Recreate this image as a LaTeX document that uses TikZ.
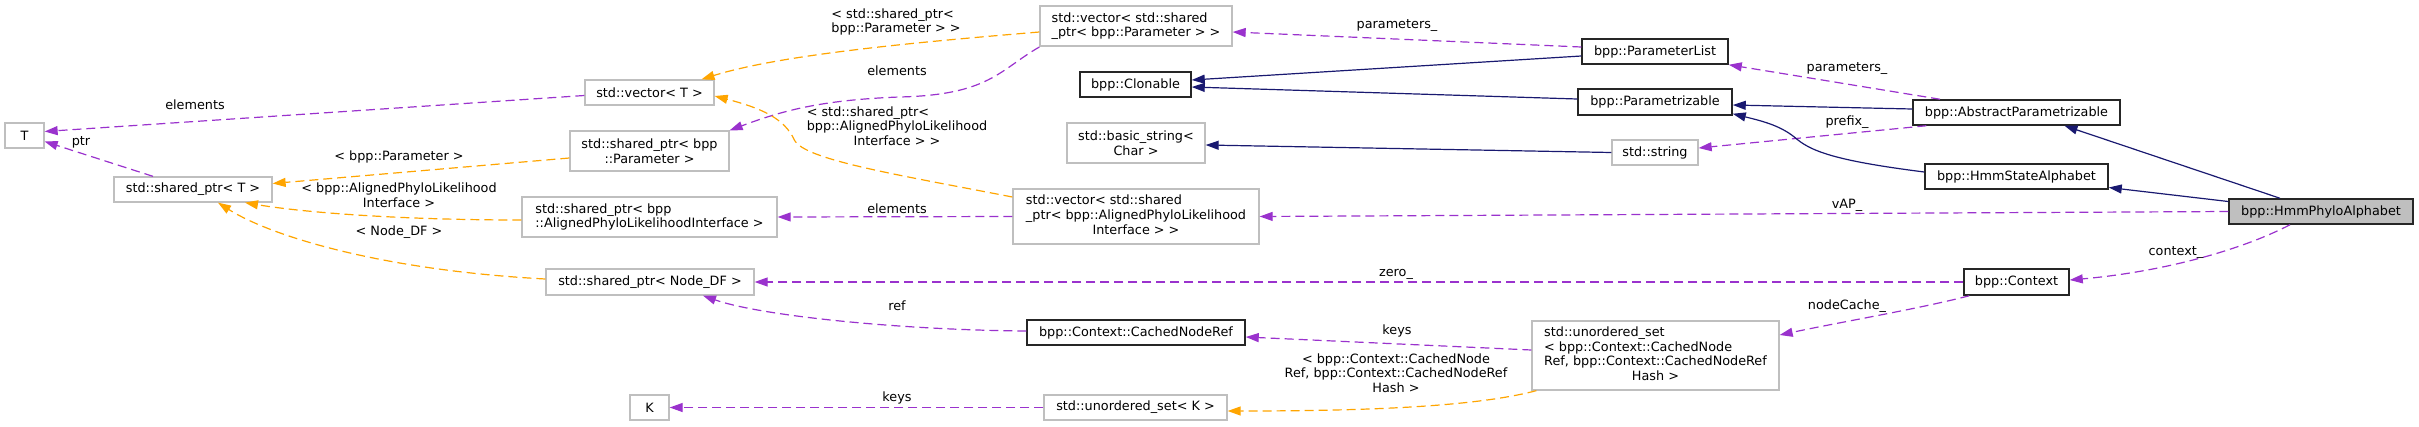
\documentclass[tikz,border=0pt]{standalone}
\usepackage{fontspec}
\setmainfont{DejaVu Sans}
\usetikzlibrary{arrows.meta}
\definecolor{usecol}{HTML}{9A32CD}
\definecolor{tplcol}{HTML}{FFA500}
\definecolor{inhcol}{HTML}{191970}
\definecolor{boxgray}{HTML}{BFBFBF}
% left lines, last line centred
\newcommand{\mixlines}[2]{\begin{tabular}{@{}l@{}}#1\\\multicolumn{1}{@{}c@{}}{#2}\end{tabular}}
\begin{document}
\begin{tikzpicture}[x=1pt,y=1pt]
\tikzstyle{every node}+=[inner sep=0pt, font=\fontsize{12.8}{14.7}\selectfont]
\tikzstyle{undoc}=[draw=boxgray, line width=1.3pt, fill=white]
\tikzstyle{doc}=[draw=black!85, line width=1.5pt, fill=white]
\tikzstyle{usage}=[usecol, line width=1.2pt, dash pattern=on 9pt off 5pt, -{Triangle[length=13pt,width=9pt]}]
\tikzstyle{tmpl}=[tplcol, line width=1.2pt, dash pattern=on 9pt off 5pt, -{Triangle[length=13pt,width=9pt]}]
\tikzstyle{inherit}=[inhcol, line width=1.2pt, -{Triangle[length=13pt,width=9pt]}]
\tikzstyle{lbl}=[align=center]
\useasboundingbox (0,0) rectangle (2419,-426);
% classes
\node [undoc, minimum width=39pt, minimum height=25pt] (T) at (24.5,-135.5) {T};
\node [undoc, minimum width=158pt, minimum height=25pt] (sptrT) at (193,-189.5) {std::shared\_ptr< T >};
\node [undoc, minimum width=129pt, minimum height=25pt] (vecT) at (649.5,-92.5) {std::vector< T >};
\node [undoc, minimum width=159pt, minimum height=40pt, align=center] (sptrPar) at (649.5,-151) {std::shared\_ptr< bpp\\::Parameter >};
\node [undoc, minimum width=255pt, minimum height=40pt, align=left] (sptrAPL) at (649.5,-217) {std::shared\_ptr< bpp\\::AlignedPhyloLikelihoodInterface >};
\node [undoc, minimum width=208pt, minimum height=26pt] (sptrNode) at (650,-282) {std::shared\_ptr< Node\_DF >};
\node [undoc, minimum width=39pt, minimum height=25pt] (K) at (649.5,-407.5) {K};
\node [undoc, minimum width=192pt, minimum height=40pt, align=left] (vecPar) at (1136,-26) {std::vector< std::shared\\\_ptr< bpp::Parameter > >};
\node [doc, minimum width=111pt, minimum height=25pt] (Clonable) at (1135.5,-84.5) {bpp::Clonable};
\node [undoc, minimum width=138pt, minimum height=40pt, align=center] (basicStr) at (1136,-143) {std::basic\_string<\\Char >};
\node [undoc, minimum width=246pt, minimum height=55pt] (vecAPL) at (1136,-216.5) {\mixlines{std::vector< std::shared\\\_ptr< bpp::AlignedPhyloLikelihood}{Interface > >}};
\node [doc, minimum width=218pt, minimum height=25pt] (CachedRef) at (1136,-332.5) {bpp::Context::CachedNodeRef};
\node [undoc, minimum width=183pt, minimum height=25pt] (usetK) at (1135.5,-407.5) {std::unordered\_set< K >};
\node [undoc, minimum width=247pt, minimum height=69pt] (usetRef) at (1655.5,-355.5) {\mixlines{std::unordered\_set\\< bpp::Context::CachedNode\\Ref, bpp::Context::CachedNodeRef}{Hash >}};
\node [doc, minimum width=146pt, minimum height=25pt] (ParList) at (1655,-51.5) {bpp::ParameterList};
\node [doc, minimum width=154pt, minimum height=26pt] (Parmz) at (1655,-102) {bpp::Parametrizable};
\node [undoc, minimum width=86pt, minimum height=25pt] (str) at (1655,-152.5) {std::string};
\node [doc, minimum width=105pt, minimum height=26pt] (Context) at (2016.5,-282) {bpp::Context};
\node [doc, minimum width=207pt, minimum height=25pt] (AbsParmz) at (2016.5,-112.5) {bpp::AbstractParametrizable};
\node [doc, minimum width=183pt, minimum height=25pt] (HmmState) at (2016.5,-176.5) {bpp::HmmStateAlphabet};
\node [doc, fill=boxgray, minimum width=184pt, minimum height=25pt] (HmmPhylo) at (2321,-211.5) {bpp::HmmPhyloAlphabet};
% edges
\draw [usage] ([yshift=-3pt]vecT.west) -- ([yshift=4pt]T.east);
\node [lbl] (lElemT) at (195,-105) {elements};
\draw [usage] ([xshift=-40pt]sptrT.north) -- ([yshift=-6pt]T.east);
\node [lbl] (lPtr) at (81,-142) {ptr};
\draw [tmpl] ([yshift=-7pt]sptrPar.west) -- ([yshift=6pt]sptrT.east);
\node [lbl] (lPar) at (399,-157) {< bpp::Parameter >};
\draw [tmpl] ([yshift=-3pt]sptrAPL.west) .. controls +(-120,0) and +(60,-10) .. ([xshift=52pt]sptrT.south);
\node [lbl] (lAPL) at (399,-195) {< bpp::AlignedPhyloLikelihood\\Interface >};
\draw [tmpl] ([yshift=3pt]sptrNode.west) .. controls +(-166,9) and +(52,-33) .. ([xshift=25pt]sptrT.south);
\node [lbl] (lNode) at (399,-232) {< Node\_DF >};
\draw [tmpl] ([yshift=-6pt]vecPar.west) .. controls +(-120,-10) and +(80,25) .. ([xshift=52pt]vecT.north);
\node [lbl, align=left] (lSptrPar) at (896,-22) {< std::shared\_ptr<\\bpp::Parameter > >};
\draw [usage] ([yshift=-21pt]vecPar.west) .. controls +(-40,-23) and +(90,2) .. ++(-140,-50) .. controls +(-80,-3) and +(51,19) .. (sptrPar.north east);
\node [lbl] (lElemPar) at (897,-71) {elements};
\draw [tmpl] ([yshift=19.5pt]vecAPL.west) .. controls +(-113,22) and +(10,-20) .. ++(-218,57) .. controls +(-10,22) and +(46,-12) .. ([yshift=-3.5pt]vecT.east);
\node [lbl] (lSptrAPL) at (897,-128) {\mixlines{< std::shared\_ptr<\\bpp::AlignedPhyloLikelihood}{Interface > >}};
\draw [usage] (vecAPL.west) -- (sptrAPL.east);
\node [lbl] (lElemAPL) at (897,-209) {elements};
\draw [usage] ([yshift=1.5pt]CachedRef.west) .. controls +(-127,1) and +(57,-20) .. ([xshift=53pt]sptrNode.south);
\node [lbl] (lRef) at (897,-306) {ref};
\draw [usage] (usetK.west) -- (K.east);
\node [lbl] (lKeysK) at (897,-398) {keys};
\draw [usage] ([yshift=4.5pt]ParList.west) -- ([yshift=-6pt]vecPar.east);
\node [lbl] (lParams) at (1397,-26) {parameters\_};
\draw [inherit] ([yshift=-4.5pt]ParList.west) -- ([yshift=4.5pt]Clonable.east);
\draw [inherit] ([yshift=3pt]Parmz.west) -- ([yshift=-2.5pt]Clonable.east);
\draw [inherit] (str.west) -- ([yshift=-2pt]basicStr.east);
\draw [usage] (Context.west) -- (sptrNode.east);
\node [lbl] (lZero) at (1396,-274) {zero\_};
\draw [usage] ([yshift=5.5pt]usetRef.west) -- ([yshift=-4.5pt]CachedRef.east);
\node [lbl] (lKeysRef) at (1397,-331) {keys};
\draw [tmpl] ([xshift=5pt]usetRef.south west) .. controls +(-57,-15) and +(153,0) .. ([yshift=-3.5pt]usetK.east);
\node [lbl] (lUset) at (1396,-373) {< bpp::Context::CachedNode\\Ref, bpp::Context::CachedNodeRef\\Hash >};
\draw [usage] ([xshift=-76.5pt]AbsParmz.north) -- (ParList.south east);
\node [lbl] (lParamsAbs) at (1847,-69) {parameters\_};
\draw [inherit] ([yshift=3.5pt]AbsParmz.west) -- ([yshift=-3pt]Parmz.east);
\draw [usage] ([xshift=14pt]AbsParmz.south west) -- ([yshift=4.5pt]str.east);
\node [lbl] (lPrefix) at (1847,-122) {prefix\_};
\draw [inherit] ([yshift=4.5pt]HmmState.west) .. controls +(-95,12) and +(15,-13) .. ++(-130,35) .. controls +(-15,12) and +(28,-7) .. ([yshift=2pt]Parmz.south east);
\draw [usage] (HmmPhylo.west) -- (vecAPL.east);
\node [lbl] (lVAP) at (1847,-205) {vAP\_};
\draw [usage] ([xshift=6pt]Context.south west) .. controls +(-50,-13) and +(61,13) .. ([yshift=20.5pt]usetRef.east);
\node [lbl] (lCache) at (1847,-306) {nodeCache\_};
\draw [inherit] ([xshift=-41pt]HmmPhylo.north) -- ([xshift=48pt]AbsParmz.south);
\draw [inherit] ([yshift=10pt]HmmPhylo.west) -- ([yshift=-11pt]HmmState.east);
\draw [usage] ([xshift=-31pt]HmmPhylo.south) .. controls +(-50,-26) and +(91,8) .. ([yshift=2pt]Context.east);
\node [lbl] (lCtx) at (2176,-253) {context\_};
\end{tikzpicture}
\end{document}
